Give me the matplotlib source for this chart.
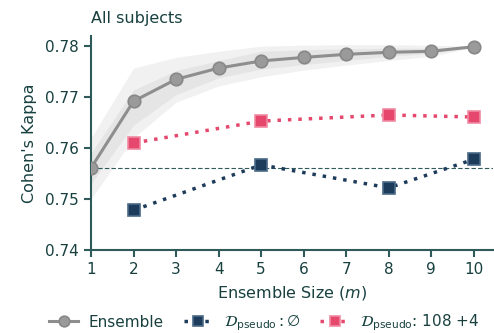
import matplotlib
matplotlib.use("Agg")
import matplotlib.pyplot as plt
import numpy as np

# ensemble size and mean kappa
m = [1, 2, 3, 4, 5, 6, 7, 8, 9, 10]
ens_kappa = [0.7561, 0.7692, 0.7735, 0.7757, 0.7771, 0.7778, 0.7784, 0.7788, 0.7790, 0.7799]
# spread bands around the ensemble curve
outer_hi = [0.7620, 0.7757, 0.7778, 0.7790, 0.7800, 0.7802, 0.7803, 0.7803, 0.7802, 0.7800]
outer_lo = [0.7500, 0.7620, 0.7690, 0.7722, 0.7740, 0.7753, 0.7763, 0.7772, 0.7780, 0.7798]
inner_hi = [0.7590, 0.7714, 0.7752, 0.7772, 0.7790, 0.7793, 0.7795, 0.7796, 0.7796, 0.7800]
inner_lo = [0.7530, 0.7645, 0.7705, 0.7738, 0.7755, 0.7764, 0.7772, 0.7780, 0.7786, 0.7799]

# pseudo-label runs
m_pseudo = [2, 5, 8, 10]
empty_kappa = [0.7478, 0.7567, 0.7522, 0.7578]
plus_kappa = [0.7610, 0.7653, 0.7665, 0.7661]

baseline = 0.7561

text_col = "#17403f"
spine_col = "#2e5a5a"

plt.rcParams['font.family'] = ['DejaVu Sans']
plt.rcParams['font.size'] = 11.5
plt.rcParams['text.color'] = text_col
plt.rcParams['axes.labelcolor'] = text_col
plt.rcParams['xtick.color'] = spine_col
plt.rcParams['ytick.color'] = spine_col
plt.rcParams['xtick.labelcolor'] = text_col
plt.rcParams['ytick.labelcolor'] = text_col
plt.rcParams['xtick.labelsize'] = 11
plt.rcParams['ytick.labelsize'] = 11

fig = plt.figure(figsize=(4.94, 3.33), dpi=100)
ax = fig.add_axes([91 / 494, 1 - 250 / 333, 402 / 494, 214 / 333])

ax.fill_between(m, outer_lo, outer_hi, color="#f1f1f1", lw=0, zorder=1)
ax.fill_between(m, inner_lo, inner_hi, color="#e5e5e5", lw=0, zorder=1)
ax.axhline(baseline, color=spine_col, lw=0.8, ls=(0, (4, 2)), zorder=2)

ax.plot(m, ens_kappa, color="#8e8e8e", lw=2.2, marker="o", ms=9,
        mfc="#9a9a9a", mec="#888888", mew=1.2, label="Ensemble", zorder=3)
ax.plot(m_pseudo, empty_kappa, color="#1d3b5a", lw=2.5, ls=(0, (1, 2)),
        marker="s", ms=9, mfc="#1d3b5a", mec="#4a6a88", mew=1.2,
        label=r"$\mathcal{D}_{\mathrm{pseudo}}: \emptyset$", zorder=4)
ax.plot(m_pseudo, plus_kappa, color="#e5486c", lw=2.5, ls=(0, (1, 2)),
        marker="s", ms=9, mfc="#e5486c", mec="#f08aa2", mew=1.2,
        label=r"$\mathcal{D}_{\mathrm{pseudo}}$: 108 +4", zorder=4)

ax.set_xlim(1, 10.45)
ax.set_ylim(0.74, 0.782)
ax.set_xticks(m)
ax.set_yticks([0.74, 0.75, 0.76, 0.77, 0.78])
ax.set_yticklabels(["0.74", "0.75", "0.76", "0.77", "0.78"])
for s in ["top", "right"]:
    ax.spines[s].set_visible(False)
for s in ["left", "bottom"]:
    ax.spines[s].set_color(spine_col)
    ax.spines[s].set_linewidth(1.5)
ax.tick_params(width=1.5, length=5)

ax.set_xlabel("Ensemble Size ($m$)", labelpad=5)
ax.set_ylabel("Cohen's Kappa", labelpad=6)
ax.set_title("All subjects", loc="left", fontsize=11.5, color=text_col, pad=9)

fig.legend(loc="center", bbox_to_anchor=(0.535, 1 - 323 / 333), ncol=3, frameon=False,
           fontsize=11, columnspacing=1.3, handletextpad=0.7, handlelength=1.9,
           markerscale=0.85)

fig.savefig("out.png", dpi=100)
